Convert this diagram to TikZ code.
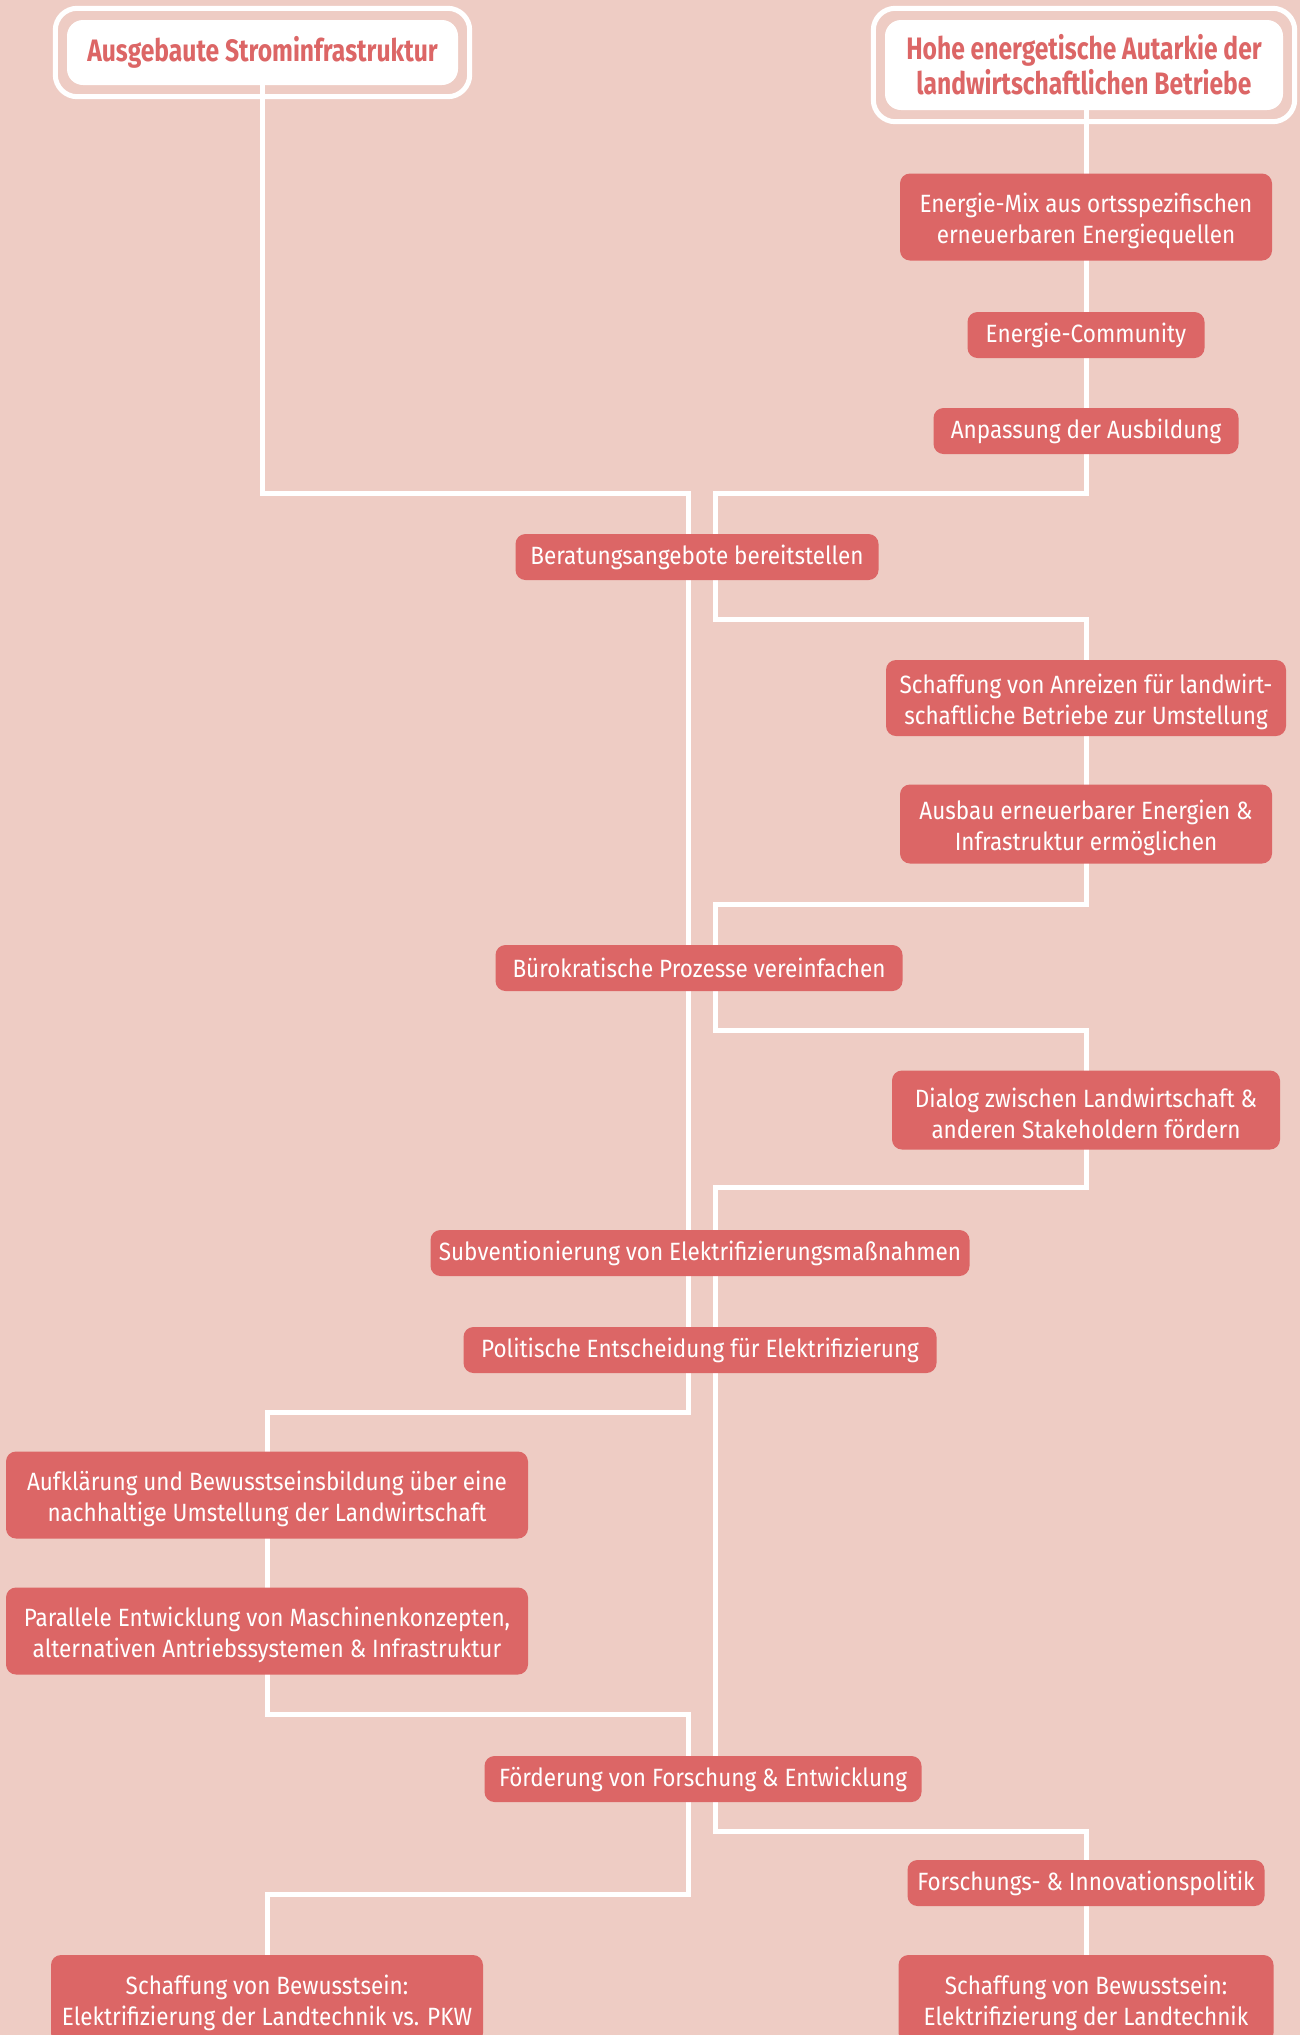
\documentclass[tikz,border=0pt]{standalone}
\usepackage{fontspec}
\setmainfont{Fira Sans}[FakeStretch=0.9]
\newfontfamily\goalfont{Fira Sans}[FakeStretch=0.795]
\usetikzlibrary{fit,backgrounds}
\definecolor{bgpink}{RGB}{238,204,196}
\definecolor{boxred}{RGB}{220,102,102}
\tikzset{
  link/.style={draw=white,line width=5pt,line join=miter},
  task/.style={fill=boxred,text=white,rounded corners=10pt,inner xsep=8pt,inner ysep=0pt,
    minimum height=46pt,align=center,font=\fontsize{25}{31}\selectfont},
  tasktwo/.style={task,execute at begin node={\rule{0pt}{58pt}}},
  goal/.style={fill=white,text=boxred,rounded corners=16pt,inner sep=0pt,align=center,
    font=\goalfont\fontsize{31}{35}\selectfont\bfseries},
  goalrim/.style={draw=white,line width=5pt,rounded corners=22pt,inner sep=11.5pt},
}
\begin{document}
\begin{tikzpicture}[x=1pt,y=-1pt]
    \useasboundingbox (0,0) rectangle (1300,2035);
    \clip (0,0) rectangle (1300,2035);
    %% Goals
    \node[goal,minimum width=391pt,minimum height=65pt] (aus) at (262.5,52.5) {Ausgebaute Strominfrastruktur};
    \node[goal,minimum width=398pt,minimum height=90pt] (hoh) at (1084,65) {Hohe energetische Autarkie der\\landwirtschaftlichen Betriebe};
    \node[goalrim,fit=(aus)] (ausrim) {};
    \node[goalrim,fit=(hoh)] (hohrim) {};
    %% Measures
    \node[tasktwo,minimum width=372pt,minimum height=87pt] (mix) at (1086,217) {Energie-Mix aus ortsspezifischen\\erneuerbaren Energiequellen};
    \node[task,minimum width=237pt] (com) at (1086,335) {Energie-Community};
    \node[task,minimum width=305pt] (ausb) at (1086,431) {Anpassung der Ausbildung};
    \node[task,minimum width=363pt] (ber) at (697,557) {Beratungsangebote bereitstellen};
    \node[tasktwo,minimum width=400pt,minimum height=76pt] (anr) at (1086,698) {Schaffung von Anreizen für landwirt-\\schaftliche Betriebe zur Umstellung};
    \node[tasktwo,minimum width=372pt,minimum height=79pt] (ene) at (1086,824) {Ausbau erneuerbarer Energien \&\\Infrastruktur ermöglichen};
    \node[task,minimum width=407pt] (bue) at (699,968) {Bürokratische Prozesse vereinfachen};
    \node[tasktwo,minimum width=388pt,minimum height=79pt] (dia) at (1086,1110) {Dialog zwischen Landwirtschaft \&\\anderen Stakeholdern fördern};
    \node[task,minimum width=539pt] (sub) at (700,1253) {Subventionierung von Elektrifizierungsmaßnahmen};
    \node[task,minimum width=473pt] (pol) at (700,1350) {Politische Entscheidung für Elektrifizierung};
    \node[tasktwo,minimum width=522pt,minimum height=87pt] (auf) at (267,1495) {Aufklärung und Bewusstseinsbildung über eine\\nachhaltige Umstellung der Landwirtschaft};
    \node[tasktwo,minimum width=522pt,minimum height=87pt] (par) at (267,1631) {Parallele Entwicklung von Maschinenkonzepten,\\alternativen Antriebssystemen \& Infrastruktur};
    \node[task,minimum width=437pt] (foe) at (703,1779) {Förderung von Forschung \& Entwicklung};
    \node[task,minimum width=357pt] (fip) at (1086,1883) {Forschungs- \& Innovationspolitik};
    \node[tasktwo,minimum width=432pt,minimum height=88pt] (bew1) at (267,1999) {Schaffung von Bewusstsein:\\Elektrifizierung der Landtechnik vs. PKW};
    \node[tasktwo,minimum width=375pt,minimum height=88pt] (bew2) at (1086,1999) {Schaffung von Bewusstsein:\\Elektrifizierung der Landtechnik};
    %% Bends
    \coordinate (kL1) at (688,493);
    \coordinate (kL2) at (267,1412);
    \coordinate (kL3) at (688,1714);
    \coordinate (kL4) at (267,1894);
    \coordinate (kR1) at (715,493);
    \coordinate (kR2) at (1086,619);
    \coordinate (kR3) at (715,904);
    \coordinate (kR4) at (1086,1030);
    \coordinate (kR5) at (715,1187);
    \coordinate (kR6) at (1086,1831);
    %% Connectors
    \begin{scope}[on background layer]
      \fill[bgpink] (0,0) rectangle (1300,2035);
      \draw[link] (aus.south) |- (kL1) |- (kL2) |- (kL3) |- (kL4) -- (bew1.north);
      \draw[link] (hoh.south -| kR2) |- (kR1) |- (kR2) |- (kR3) |- (kR4) |- (kR5) |- (kR6) -- (bew2.north);
    \end{scope}
\end{tikzpicture}
\end{document}
